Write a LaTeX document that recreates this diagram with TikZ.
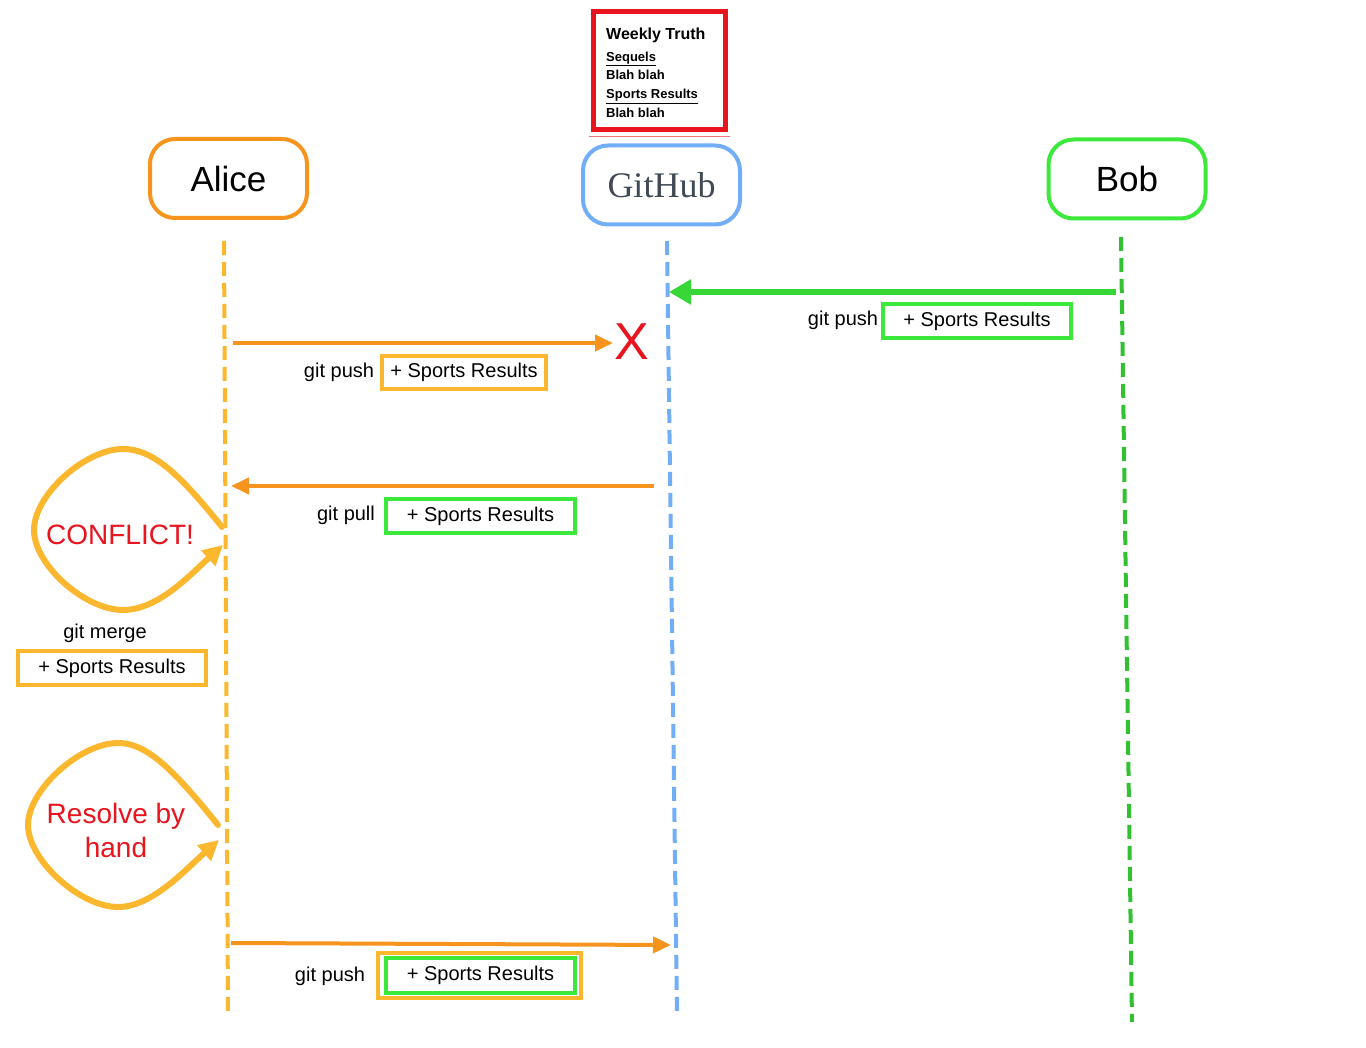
\documentclass[tikz,border=0pt]{standalone}
\usepackage{fontspec}
\setmainfont{Liberation Sans}
\newfontfamily\ghfont{Liberation Serif}
\usetikzlibrary{arrows.meta}
\definecolor{aorange}{RGB}{247,148,30}
\definecolor{ayellow}{RGB}{251,183,46}
\definecolor{ghblue}{RGB}{114,174,245}
\definecolor{bgreen}{RGB}{59,232,59}
\definecolor{agreen}{RGB}{55,215,55}
\definecolor{xred}{RGB}{232,20,30}
\definecolor{ghtext}{RGB}{64,74,85}
\tikzset{
  actor/.style={draw, line width=4pt, rounded corners=25pt, minimum width=157pt, minimum height=79pt, font=\fontsize{35}{40}\selectfont},
  life/.style={line width=4pt, dash pattern=on 14pt off 7pt},
  msg/.style={line width=4pt, draw=aorange, -{Triangle[length=18pt,width=16pt]}},
  lbl/.style={inner sep=0pt, font=\fontsize{20}{24}\selectfont},
  itembox/.style={draw, line width=4pt, inner sep=0pt, font=\fontsize{20}{24}\selectfont},
  loopline/.style={line width=6pt, draw=ayellow, line cap=round, -{Triangle[length=20pt,width=20pt]}},
  newsline/.style={anchor=base west, inner sep=0pt, font=\bfseries\fontsize{13}{15}\selectfont},
}
\begin{document}
\begin{tikzpicture}[x=1pt,y=-1pt]
\useasboundingbox (0,0) rectangle (1366,1048);
\fill[white] (0,0) rectangle (1366,1048);

% newspaper box
\node[draw=xred, line width=5pt, minimum width=132pt, minimum height=118pt, inner sep=0pt] (news) at (659,71) {};
\draw[xred!60, line width=1pt] ([xshift=-2pt,yshift=-4pt]news.south west) -- ([xshift=2pt,yshift=-4pt]news.south east);
\node[newsline, font=\bfseries\fontsize{16}{18}\selectfont] (wt) at (606,40) {Weekly Truth};
\node[newsline] (seq) at (606,61.5) {\underline{Sequels}};
\node[newsline] (b1) at (606,79.7) {Blah blah};
\node[newsline] (sr) at (606,98.7) {\underline{Sports Results}};
\node[newsline] (b2) at (606,117.7) {Blah blah};

% actors
\node[actor, draw=aorange] (alice) at (228.5,178.5) {Alice};
\node[actor, draw=ghblue, font=\ghfont\fontsize{36}{40}\selectfont, text=ghtext] (github) at (661.5,185) {GitHub};
\node[actor, draw=bgreen] (bob) at (1127,179) {Bob};

% lifelines
\coordinate (aT) at (224,241); \coordinate (aB) at (228,1015);
\coordinate (gT) at (667,241); \coordinate (gB) at (677,1015);
\coordinate (bT) at (1121,237); \coordinate (bB) at (1132,1022);
\draw[life, draw=ayellow] (aT) -- (aB);
\draw[life, draw=ghblue] (gT) -- (gB);
\draw[life, draw=agreen!90!black] (bT) -- (bB);

% Bob push
\coordinate (m1s) at (1116,292); \coordinate (m1e) at (669,292);
\draw[line width=6pt, draw=agreen, -{Triangle[length=22pt,width=24pt]}] (m1s) -- (m1e);
\node[lbl] (l1) at (843,320) {git push};
\node[itembox, draw=bgreen, minimum width=188pt, minimum height=34pt] (i1) at (977,321) {+ Sports Results};

% Alice push (rejected)
\coordinate (m2s) at (233,343); \coordinate (m2e) at (613,343);
\draw[msg] (m2s) -- (m2e);
\node[inner sep=0pt, text=xred, font=\fontsize{52}{56}\selectfont] (x) at (632,342) {X};
\node[lbl] (l2) at (339,372) {git push};
\node[itembox, draw=ayellow, minimum width=164pt, minimum height=33pt] (i2) at (464,372.5) {+ Sports Results};

% Alice pull
\coordinate (m3s) at (654,486); \coordinate (m3e) at (231,486);
\draw[msg] (m3s) -- (m3e);
\node[lbl] (l3) at (346,515) {git pull};
\node[itembox, draw=bgreen, minimum width=189pt, minimum height=34pt] (i3) at (480.5,516) {+ Sports Results};

% conflict loop
\coordinate (c1s) at (222,527); \coordinate (c1e) at (223,545);
\draw[loopline] (c1s) .. controls (175,468) and (150,449) .. (123,449)
  .. controls (85,449) and (34,495) .. (34,530)
  .. controls (34,565) and (85,610) .. (123,610)
  .. controls (158,610) and (190,575) .. (c1e);
\node[inner sep=0pt, text=xred, font=\fontsize{28}{32}\selectfont] (conf) at (120,535) {CONFLICT!};
\node[lbl] (l4) at (105,633) {git merge};
\node[itembox, draw=ayellow, minimum width=188pt, minimum height=34pt] (i4) at (112,668) {+ Sports Results};

% resolve loop
\coordinate (c2s) at (218,825); \coordinate (c2e) at (219,840);
\draw[loopline] (c2s) .. controls (170,765) and (145,743) .. (118,743)
  .. controls (80,743) and (28,790) .. (28,825)
  .. controls (28,860) and (80,907) .. (118,907)
  .. controls (152,907) and (185,870) .. (c2e);
\node[inner sep=0pt, text=xred, font=\fontsize{28}{34}\selectfont, align=center] (res) at (116,830) {Resolve by\\hand};

% final push
\coordinate (m5s) at (231,943); \coordinate (m5e) at (671,945);
\draw[msg] (m5s) -- (m5e);
\node[lbl] (l5) at (330,976) {git push};
\node[draw=ayellow, line width=4pt, minimum width=203pt, minimum height=45pt, inner sep=0pt] (o5) at (479.5,975.5) {};
\node[itembox, draw=bgreen, minimum width=189pt, minimum height=35pt] (i5) at (480.5,975.5) {+ Sports Results};
\end{tikzpicture}
\end{document}
